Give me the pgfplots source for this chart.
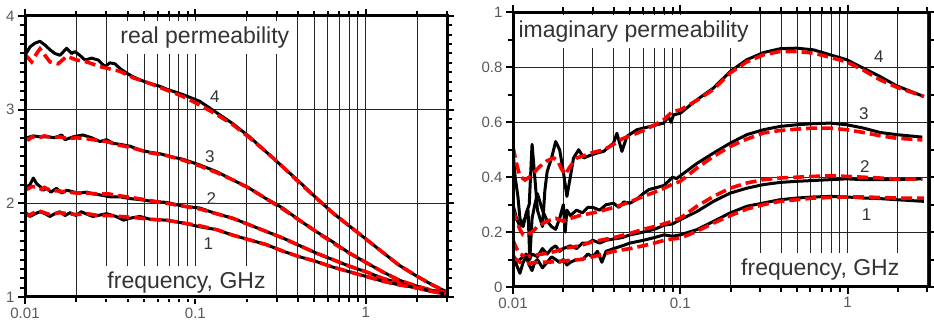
\documentclass[border=0pt]{standalone}
\usepackage{fontspec}
\setmainfont{Liberation Sans}
\usepackage{pgfplots}
\pgfplotsset{compat=1.18}
\tikzset{
  meas/.style={black, line width=3pt, line join=round},
  fitc/.style={red, line width=3.6pt, dash pattern=on 11pt off 5pt},
  lab/.style={fill=white, inner xsep=2pt, inner ysep=6pt, font=\fontsize{23}{27}\selectfont, text=black!80},
  num/.style={font=\fontsize{17}{20}\selectfont, text=black!80},
  frame/.style={line width=3pt, black},
}
\begin{document}
\begin{tikzpicture}
% ---------------- left: real permeability
\begin{axis}[set layers, clip mode=individual, scale only axis, xmode=log, xmin=0.01,
    xtick={0.01,0.1,1}, xticklabels={0.01,0.1,1},
    minor xtick={0.02,0.03,0.04,0.05,0.06,0.07,0.08,0.09,0.2,0.3,0.4,0.5,0.6,0.7,0.8,0.9,2,3},
    xmajorgrids=true, xminorgrids=true, ymajorgrids=true,
    grid style={black!85, line width=0.9pt},
    minor grid style={black!85, line width=0.9pt},
    tick align=outside, major tick length=7pt, minor tick length=5pt,
    every tick/.style={black, line width=2pt},
    tick label style={font=\fontsize{15}{18}\selectfont, text=black!65},
    /pgf/number format/assume math mode=true,
  at={(25pt,32pt)}, anchor=south west,
  width=422pt, height=281pt, xmax=3, ymin=1, ymax=4,
  ytick={1,2,3,4}, yticklabels={1,2,3,4}, minor y tick num=9]
% curve 4
\addplot[meas] coordinates {(0.0100,3.58)(0.0107,3.67)(0.01144,3.71)(0.01224,3.73)(0.0131,3.69)(0.01401,3.64)(0.01499,3.60)(0.01604,3.58)(0.01756,3.655)(0.01877,3.60)(0.01963,3.62)(0.0210,3.58)(0.0225,3.53)(0.0246,3.55)(0.0269,3.53)(0.0295,3.46)(0.0315,3.50)(0.0337,3.49)(0.0361,3.44)(0.0395,3.39)(0.0432,3.35)(0.0472,3.32)(0.0517,3.29)(0.0565,3.27)(0.0618,3.25)(0.0676,3.22)(0.0847,3.16)(0.1060,3.09)(0.1327,2.97)(0.1661,2.85)(0.2079,2.71)(0.2602,2.55)(0.3257,2.39)(0.4077,2.23)(0.5103,2.06)(0.6387,1.90)(0.7995,1.76)(1.0007,1.62)(1.2526,1.48)(1.5679,1.34)(1.9626,1.23)(2.4566,1.13)(2.95,1.06)};
\addplot[fitc] coordinates {(0.0100,3.57)(0.01023,3.57)(0.01094,3.51)(0.01171,3.60)(0.01224,3.65)(0.0131,3.58)(0.01402,3.51)(0.01569,3.49)(0.01756,3.57)(0.0201,3.53)(0.0230,3.51)(0.02755,3.46)(0.0361,3.41)(0.0432,3.34)(0.0541,3.28)(0.0677,3.21)(0.0847,3.14)(0.1060,3.05)(0.1327,2.95)(0.1661,2.84)(0.2079,2.70)(0.2602,2.55)(0.3257,2.39)(0.4077,2.22)(0.5103,2.06)(0.6387,1.90)(0.7995,1.76)(1.0007,1.62)(1.2526,1.48)(1.5679,1.34)(1.9626,1.23)(2.4566,1.13)(2.95,1.06)};
% curve 3
\addplot[meas] coordinates {(0.0100,2.695)(0.01119,2.72)(0.01224,2.71)(0.0137,2.71)(0.01499,2.70)(0.01642,2.73)(0.01716,2.68)(0.0192,2.71)(0.0219,2.73)(0.0246,2.70)(0.02755,2.66)(0.0301,2.68)(0.0330,2.64)(0.0361,2.63)(0.0413,2.61)(0.0472,2.57)(0.0541,2.545)(0.0618,2.53)(0.0709,2.50)(0.0847,2.47)(0.1060,2.41)(0.1327,2.34)(0.1661,2.25)(0.2079,2.16)(0.2602,2.05)(0.3257,1.95)(0.4077,1.82)(0.5103,1.70)(0.6387,1.59)(0.7995,1.47)(1.0007,1.37)(1.2526,1.27)(1.5679,1.18)(1.9626,1.12)(2.4566,1.07)(2.95,1.05)};
\addplot[fitc] coordinates {(0.0100,2.70)(0.0105,2.68)(0.0110,2.71)(0.0120,2.70)(0.0130,2.72)(0.0145,2.70)(0.0160,2.71)(0.0180,2.69)(0.0200,2.70)(0.0230,2.69)(0.0270,2.67)(0.0300,2.66)(0.0360,2.62)(0.0430,2.59)(0.0540,2.54)(0.0680,2.51)(0.0850,2.46)(0.1060,2.40)(0.1327,2.33)(0.1661,2.25)(0.2079,2.16)(0.2602,2.05)(0.3257,1.94)(0.4077,1.82)(0.5103,1.70)(0.6387,1.58)(0.7995,1.47)(1.0007,1.37)(1.2526,1.27)(1.5679,1.18)(1.9626,1.12)(2.4566,1.07)(2.95,1.05)};
% curve 2
\addplot[meas] coordinates {(0.0100,2.16)(0.0107,2.20)(0.01119,2.27)(0.0117,2.21)(0.01224,2.18)(0.0128,2.14)(0.0134,2.16)(0.0142,2.12)(0.0153,2.16)(0.01642,2.11)(0.0176,2.14)(0.0194,2.12)(0.0210,2.11)(0.0230,2.12)(0.0252,2.10)(0.02755,2.09)(0.0315,2.07)(0.0361,2.07)(0.0415,2.05)(0.0472,2.04)(0.0565,2.02)(0.0676,2.01)(0.0847,1.97)(0.1060,1.95)(0.1327,1.89)(0.1661,1.84)(0.2079,1.77)(0.2602,1.70)(0.3257,1.63)(0.4077,1.55)(0.5103,1.47)(0.6387,1.40)(0.7995,1.33)(1.0007,1.27)(1.2526,1.20)(1.5679,1.15)(1.9626,1.10)(2.4566,1.06)(2.95,1.04)};
\addplot[fitc] coordinates {(0.0100,2.14)(0.0105,2.16)(0.0110,2.18)(0.0118,2.17)(0.0125,2.15)(0.0130,2.17)(0.0140,2.14)(0.0160,2.13)(0.0180,2.12)(0.0200,2.11)(0.0230,2.11)(0.0270,2.10)(0.0310,2.10)(0.0360,2.08)(0.0430,2.06)(0.0540,2.03)(0.0680,2.00)(0.0850,1.97)(0.1060,1.94)(0.1327,1.89)(0.1661,1.84)(0.2079,1.77)(0.2602,1.70)(0.3257,1.63)(0.4077,1.55)(0.5103,1.47)(0.6387,1.40)(0.7995,1.33)(1.0007,1.27)(1.2526,1.20)(1.5679,1.15)(1.9626,1.10)(2.4566,1.06)(2.95,1.04)};
% curve 1
\addplot[meas] coordinates {(0.0100,1.91)(0.0107,1.86)(0.0115,1.89)(0.01224,1.91)(0.0131,1.89)(0.0140,1.86)(0.0150,1.89)(0.0160,1.91)(0.0172,1.87)(0.0184,1.90)(0.0199,1.87)(0.0214,1.91)(0.0234,1.88)(0.0250,1.86)(0.0268,1.87)(0.0301,1.89)(0.0342,1.86)(0.0379,1.82)(0.0411,1.84)(0.0472,1.86)(0.0541,1.83)(0.0676,1.82)(0.0847,1.79)(0.1060,1.75)(0.1327,1.72)(0.1661,1.66)(0.2079,1.61)(0.2602,1.56)(0.3257,1.49)(0.4077,1.43)(0.5103,1.38)(0.6387,1.32)(0.7995,1.27)(1.0007,1.22)(1.2526,1.17)(1.5679,1.13)(1.9626,1.10)(2.4566,1.06)(2.95,1.03)};
\addplot[fitc] coordinates {(0.0100,1.89)(0.0105,1.87)(0.0110,1.89)(0.0120,1.92)(0.0130,1.90)(0.0140,1.88)(0.0160,1.90)(0.0180,1.89)(0.0200,1.88)(0.0230,1.89)(0.0270,1.87)(0.0310,1.87)(0.0360,1.86)(0.0430,1.85)(0.0540,1.83)(0.0680,1.82)(0.0850,1.79)(0.1060,1.76)(0.1327,1.72)(0.1661,1.66)(0.2079,1.61)(0.2602,1.56)(0.3257,1.49)(0.4077,1.43)(0.5103,1.38)(0.6387,1.32)(0.7995,1.27)(1.0007,1.22)(1.2526,1.17)(1.5679,1.13)(1.9626,1.10)(2.4566,1.06)(2.95,1.03)};
\node[lab] at (axis cs:0.1137,3.77) {real permeability};
\node[lab] at (axis cs:0.0887,1.153) {frequency, GHz};
\node[num] at (axis cs:0.130,3.14) {4};
\node[num] at (axis cs:0.1217,2.50) {3};
\node[num] at (axis cs:0.124,2.05) {2};
\node[num] at (axis cs:0.119,1.57) {1};
\draw[frame] (rel axis cs:0,0) rectangle (rel axis cs:1,1);
\end{axis}
% ---------------- right: imaginary permeability
\begin{axis}[set layers, clip mode=individual, scale only axis, xmode=log, xmin=0.01,
    xtick={0.01,0.1,1}, xticklabels={0.01,0.1,1},
    minor xtick={0.02,0.03,0.04,0.05,0.06,0.07,0.08,0.09,0.2,0.3,0.4,0.5,0.6,0.7,0.8,0.9,2,3},
    xmajorgrids=true, xminorgrids=true, ymajorgrids=true,
    grid style={black!85, line width=0.9pt},
    minor grid style={black!85, line width=0.9pt},
    tick align=outside, major tick length=7pt, minor tick length=5pt,
    every tick/.style={black, line width=2pt},
    tick label style={font=\fontsize{15}{18}\selectfont, text=black!65},
    /pgf/number format/assume math mode=true,
  at={(513pt,42pt)}, anchor=south west,
  width=416pt, height=274.5pt, xmax=3.07, ymin=0, ymax=1,
  ytick={0,0.2,0.4,0.6,0.8,1}, yticklabels={0,0.2,0.4,0.6,0.8,1}, minor y tick num=1]
% curve 4
\addplot[meas] coordinates {(0.0100,0.50)(0.0103,0.40)(0.0107,0.33)(0.0110,0.25)(0.0115,0.22)(0.0120,0.27)(0.0125,0.30)(0.0130,0.52)(0.0135,0.40)(0.0140,0.28)(0.0150,0.22)(0.0155,0.35)(0.0160,0.42)(0.0170,0.47)(0.0180,0.53)(0.0190,0.50)(0.0200,0.42)(0.0210,0.33)(0.0220,0.40)(0.0230,0.47)(0.0247,0.50)(0.0265,0.47)(0.0290,0.48)(0.0318,0.488)(0.0348,0.494)(0.0399,0.524)(0.0418,0.56)(0.0448,0.494)(0.0480,0.549)(0.0551,0.573)(0.0662,0.585)(0.0795,0.597)(0.0850,0.62)(0.0880,0.60)(0.0912,0.627)(0.1000,0.633)(0.1257,0.682)(0.1581,0.725)(0.1988,0.785)(0.2500,0.828)(0.3144,0.854)(0.3953,0.868)(0.4971,0.870)(0.6251,0.864)(0.7861,0.846)(0.9885,0.828)(1.243,0.797)(1.563,0.767)(1.966,0.733)(2.86,0.694)};
\addplot[fitc] coordinates {(0.0100,0.51)(0.0104,0.46)(0.0108,0.42)(0.0112,0.40)(0.0118,0.39)(0.0125,0.40)(0.0135,0.42)(0.0145,0.44)(0.0160,0.46)(0.0175,0.47)(0.0185,0.46)(0.0195,0.43)(0.0205,0.41)(0.0220,0.44)(0.0240,0.47)(0.0270,0.48)(0.0300,0.49)(0.0350,0.50)(0.0400,0.52)(0.0450,0.54)(0.0500,0.55)(0.0600,0.57)(0.0700,0.59)(0.0800,0.61)(0.0900,0.64)(0.1000,0.645)(0.1257,0.68)(0.1581,0.72)(0.1988,0.78)(0.2500,0.82)(0.3144,0.846)(0.3953,0.858)(0.4971,0.858)(0.6251,0.852)(0.7861,0.837)(0.9885,0.82)(1.243,0.79)(1.563,0.755)(1.966,0.728)(2.86,0.694)};
% curve 3
\addplot[meas] coordinates {(0.0100,0.30)(0.0105,0.25)(0.0110,0.22)(0.0118,0.25)(0.0123,0.28)(0.0126,0.10)(0.0130,0.25)(0.0135,0.30)(0.0140,0.34)(0.0150,0.28)(0.0160,0.24)(0.0170,0.22)(0.0180,0.21)(0.0190,0.25)(0.0200,0.30)(0.0205,0.20)(0.0210,0.28)(0.0220,0.26)(0.0240,0.28)(0.0260,0.27)(0.0280,0.29)(0.0300,0.29)(0.0330,0.28)(0.0360,0.30)(0.0400,0.305)(0.0430,0.29)(0.0460,0.31)(0.0500,0.305)(0.0550,0.32)(0.0600,0.34)(0.0650,0.355)(0.0700,0.36)(0.0750,0.365)(0.0800,0.37)(0.0900,0.40)(0.0950,0.395)(0.1000,0.405)(0.1257,0.45)(0.1581,0.488)(0.1988,0.524)(0.2500,0.555)(0.3144,0.573)(0.3953,0.585)(0.4971,0.591)(0.6251,0.595)(0.7861,0.597)(0.9885,0.591)(1.243,0.579)(1.563,0.563)(1.966,0.555)(2.80,0.546)};
\addplot[fitc] coordinates {(0.0100,0.28)(0.0105,0.24)(0.0110,0.21)(0.0115,0.19)(0.0120,0.19)(0.0130,0.20)(0.0140,0.22)(0.0160,0.24)(0.0180,0.25)(0.0200,0.24)(0.0220,0.25)(0.0250,0.26)(0.0300,0.27)(0.0350,0.28)(0.0400,0.29)(0.0450,0.30)(0.0500,0.31)(0.0600,0.33)(0.0700,0.345)(0.0800,0.36)(0.0900,0.375)(0.1000,0.385)(0.1257,0.433)(0.1581,0.476)(0.1988,0.512)(0.2500,0.539)(0.3144,0.561)(0.3953,0.570)(0.4971,0.575)(0.6251,0.579)(0.7861,0.579)(0.9885,0.573)(1.243,0.563)(1.563,0.551)(1.966,0.542)(2.80,0.536)};
% curve 2
\addplot[meas] coordinates {(0.0100,0.12)(0.0105,0.09)(0.0110,0.10)(0.0115,0.11)(0.0120,0.12)(0.0125,0.10)(0.0130,0.12)(0.0140,0.11)(0.0150,0.14)(0.0160,0.12)(0.0170,0.14)(0.0180,0.15)(0.0190,0.13)(0.0200,0.14)(0.0220,0.15)(0.0240,0.14)(0.0260,0.16)(0.0280,0.16)(0.0300,0.17)(0.0330,0.16)(0.0360,0.17)(0.0400,0.175)(0.0450,0.18)(0.0500,0.19)(0.0550,0.195)(0.0600,0.20)(0.0700,0.21)(0.0800,0.225)(0.0900,0.23)(0.1000,0.245)(0.1257,0.275)(0.1581,0.312)(0.1988,0.342)(0.2500,0.36)(0.3144,0.373)(0.3953,0.381)(0.4971,0.385)(0.6251,0.388)(0.7861,0.391)(0.9885,0.394)(1.243,0.391)(1.563,0.391)(1.966,0.391)(2.80,0.394)};
\addplot[fitc] coordinates {(0.0100,0.17)(0.0105,0.14)(0.0110,0.12)(0.0120,0.11)(0.0130,0.115)(0.0150,0.12)(0.0180,0.13)(0.0200,0.14)(0.0250,0.15)(0.0300,0.165)(0.0400,0.18)(0.0500,0.195)(0.0600,0.21)(0.0700,0.22)(0.0800,0.23)(0.0900,0.24)(0.1000,0.251)(0.1257,0.294)(0.1581,0.33)(0.1988,0.36)(0.2500,0.379)(0.3144,0.391)(0.3953,0.397)(0.4971,0.40)(0.6251,0.403)(0.7861,0.405)(0.9885,0.403)(1.243,0.40)(1.563,0.397)(1.966,0.393)(2.80,0.393)};
% curve 1
\addplot[meas] coordinates {(0.0100,0.10)(0.0105,0.08)(0.0110,0.05)(0.0115,0.09)(0.0120,0.11)(0.0125,0.08)(0.0130,0.06)(0.0135,0.09)(0.0140,0.10)(0.0150,0.07)(0.0160,0.09)(0.0170,0.11)(0.0180,0.10)(0.0190,0.09)(0.0200,0.10)(0.0210,0.08)(0.0220,0.09)(0.0240,0.10)(0.0260,0.10)(0.0280,0.12)(0.0300,0.11)(0.0320,0.13)(0.0340,0.09)(0.0360,0.13)(0.0400,0.14)(0.0450,0.15)(0.0500,0.16)(0.0600,0.17)(0.0700,0.18)(0.0800,0.19)(0.0900,0.185)(0.1000,0.19)(0.1257,0.209)(0.1581,0.239)(0.1988,0.27)(0.2500,0.294)(0.3144,0.306)(0.3953,0.318)(0.4971,0.324)(0.6251,0.328)(0.7861,0.33)(0.9885,0.328)(1.243,0.324)(1.563,0.322)(1.966,0.318)(2.86,0.312)};
\addplot[fitc] coordinates {(0.0100,0.11)(0.0110,0.09)(0.0120,0.085)(0.0140,0.09)(0.0160,0.09)(0.0200,0.095)(0.0250,0.10)(0.0300,0.11)(0.0400,0.13)(0.0500,0.14)(0.0600,0.15)(0.0700,0.16)(0.0800,0.17)(0.0900,0.175)(0.1000,0.178)(0.1257,0.203)(0.1581,0.233)(0.1988,0.26)(0.2500,0.284)(0.3144,0.30)(0.3953,0.312)(0.4971,0.318)(0.6251,0.324)(0.7861,0.326)(0.9885,0.328)(1.243,0.328)(1.563,0.326)(1.966,0.324)(2.86,0.324)};
\node[lab] at (axis cs:0.0526,0.93) {imaginary permeability};
\node[lab] at (axis cs:0.687,0.063) {frequency, GHz};
\node[num] at (axis cs:1.54,0.84) {4};
\node[num] at (axis cs:1.25,0.633) {3};
\node[num] at (axis cs:1.27,0.44) {2};
\node[num] at (axis cs:1.30,0.263) {1};
\draw[frame] (rel axis cs:0,0) rectangle (rel axis cs:1,1);
\end{axis}
\pgfresetboundingbox
\path[use as bounding box] (0pt,0pt) rectangle (934pt,329pt);
\end{tikzpicture}
\end{document}
